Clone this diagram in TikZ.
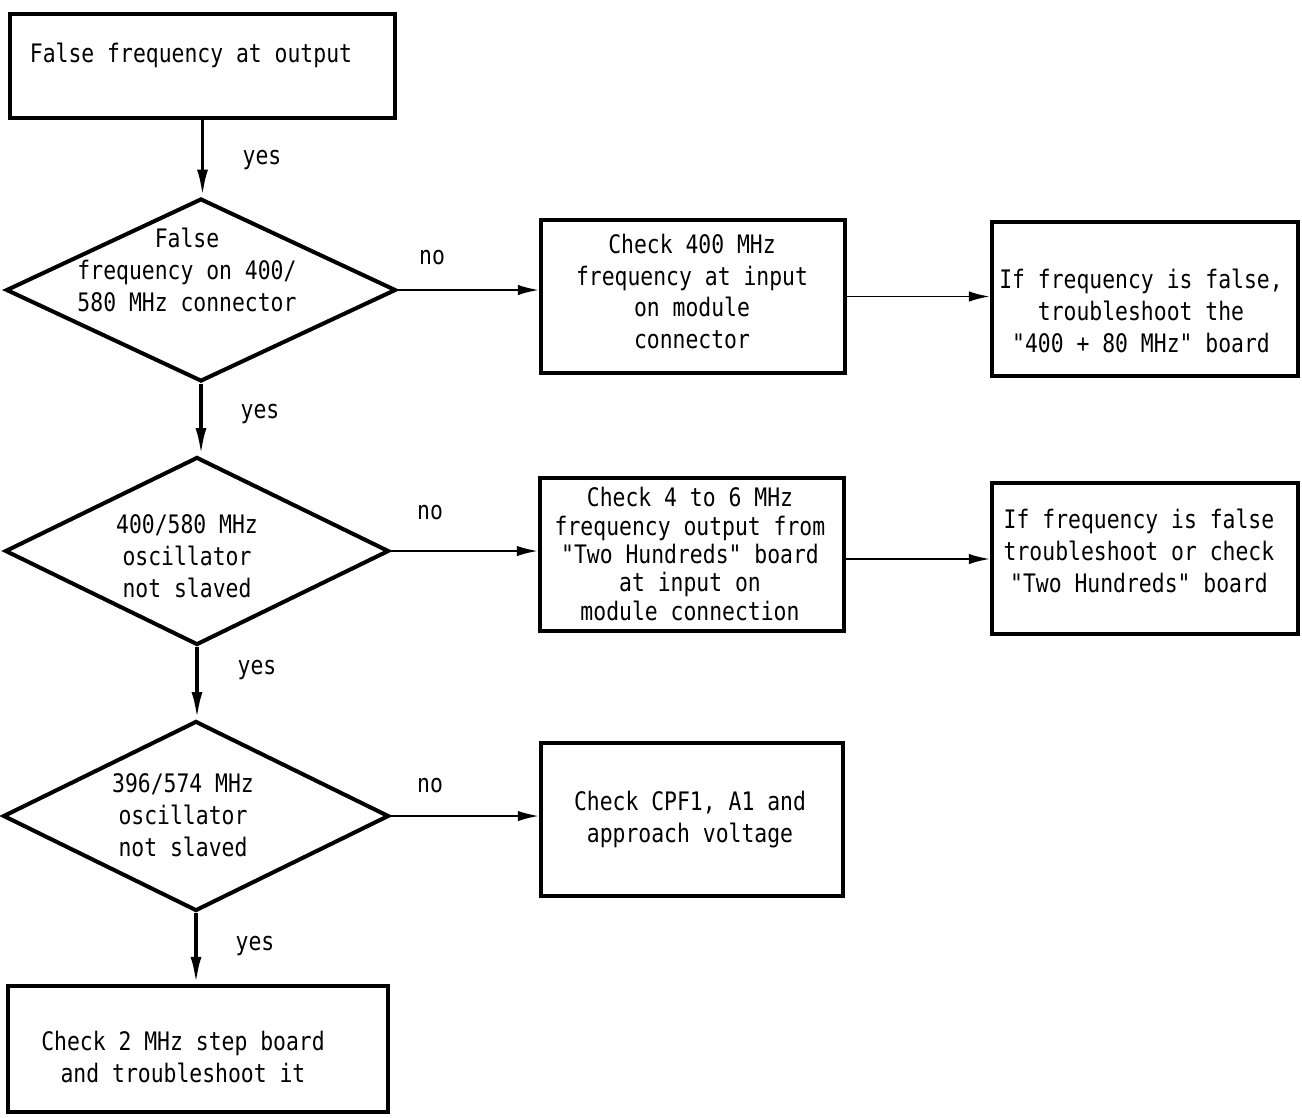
\documentclass[tikz,border=0pt]{standalone}
\usepackage{fontspec}
\newfontfamily\tw[FakeStretch=0.84]{DejaVu Sans Mono}
\usetikzlibrary{shapes.geometric,arrows.meta}
\begin{document}
\begin{tikzpicture}[x=0.02cm,y=-0.02cm,
  every node/.style={font=\tw\fontsize{14.5}{18.2}\selectfont},
  box/.style={draw, line width=2.6pt, inner sep=0pt},
  dia/.style={draw, diamond, line width=2.3pt, inner sep=0pt},
  txt/.style={align=center, inner sep=0pt},
  tight/.style={txt, font=\tw\fontsize{14.5}{16.2}\selectfont},
  arr/.style={-{Latex[length=0.42cm,width=0.21cm]}, line width=1.1pt},
  varr/.style={-{Latex[length=0.54cm,width=0.22cm]}, line width=2pt},
  lbl/.style={inner sep=0pt}]
\useasboundingbox[fill=white] (0,0) rectangle (1302,1117);

% boxes
\node[box, minimum width=7.7cm, minimum height=2.08cm] (b1) at (202.5,66) {};
\node[txt] (b1t) at (191,55) {False frequency at output};
\node[box, minimum width=6.08cm, minimum height=3.06cm] (b2) at (693,296.5) {};
\node[txt] (b2t) at (692,291.5) {Check 400 MHz\\frequency at input\\on module\\connector};
\node[box, minimum width=6.12cm, minimum height=3.08cm] (b3) at (1145,299) {};
\node[txt] (b3t) at (1141,311) {If frequency is false,\\troubleshoot the\\"400 + 80 MHz" board};
\node[box, minimum width=6.08cm, minimum height=3.06cm] (b4) at (692,554.5) {};
\node[tight] (b4t) at (690,554) {Check 4 to 6 MHz\\frequency output from\\"Two Hundreds" board\\at input on\\module connection};
\node[box, minimum width=6.12cm, minimum height=3.02cm] (b5) at (1145,558.5) {};
\node[txt] (b5t) at (1139,551) {If frequency is false\\troubleshoot or check\\"Two Hundreds" board};
\node[box, minimum width=6.04cm, minimum height=3.06cm] (b6) at (692,819.5) {};
\node[txt] (b6t) at (690,820) {Check CPF1, A1 and\\approach voltage};
\node[box, minimum width=7.6cm, minimum height=2.52cm] (b7) at (198,1049) {};
\node[txt] (b7t) at (183,1057) {Check 2 MHz step board\\and troubleshoot it};

% diamonds
\node[dia, minimum width=7.8cm, minimum height=3.66cm] (d1) at (201,290) {};
\node[txt] (d1t) at (187,270) {False\\frequency on 400/\\580 MHz connector};
\node[dia, minimum width=7.68cm, minimum height=3.76cm] (d2) at (197,551) {};
\node[txt] (d2t) at (187,556) {400/580 MHz\\oscillator\\not slaved};
\node[dia, minimum width=7.72cm, minimum height=3.8cm] (d3) at (196,816) {};
\node[txt] (d3t) at (183,815) {396/574 MHz\\oscillator\\not slaved};

% vertical connectors
\draw[varr] (b1.south) -- (b1.south |- d1.north);
\draw[varr] (d1.south) -- (d1.south |- d2.north);
\draw[varr] (d2.south) -- (d2.south |- d3.north);
\draw[varr] (d3.south) -- (d3.south |- b7.north);

% horizontal connectors
\draw[arr] (d1.east) -- (d1.east -| b2.west);
\draw[arr] (b2.east) -- (b2.east -| b3.west);
\draw[arr] (d2.east) -- (d2.east -| b4.west);
\draw[arr] ([yshift=-0.09cm]b4.east) -- ([yshift=-0.09cm]b4.east -| b5.west);
\draw[arr] (d3.east) -- (d3.east -| b6.west);

% labels
\node[lbl] (y1) at (262,160) {yes};
\node[lbl] (y2) at (260,414) {yes};
\node[lbl] (y3) at (257,670) {yes};
\node[lbl] (y4) at (255,946) {yes};
\node[lbl] (n1) at (432,258) {no};
\node[lbl] (n2) at (430,513) {no};
\node[lbl] (n3) at (430,786) {no};
\end{tikzpicture}
\end{document}
